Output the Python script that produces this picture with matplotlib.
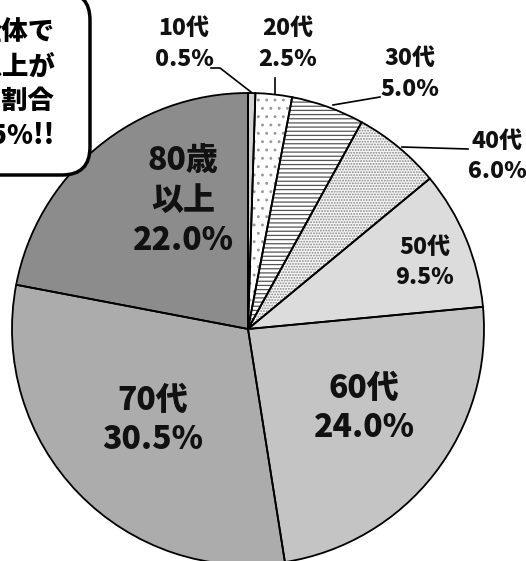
import matplotlib
matplotlib.use("Agg")
import matplotlib.pyplot as plt
from matplotlib.patches import FancyBboxPatch

plt.rcParams['font.family'] = ['Noto Sans CJK JP', 'DejaVu Sans']
plt.rcParams['hatch.linewidth'] = 0.9

categories = ['10代', '20代', '30代', '40代', '50代', '60代', '70代', '80歳\n以上']
values = [0.5, 2.5, 5.0, 6.0, 9.5, 24.0, 30.5, 22.0]
pct_labels = ['0.5%', '2.5%', '5.0%', '6.0%', '9.5%', '24.0%', '30.5%', '22.0%']
bubble_lines = ['全体で', '70代以上が', '占める割合', '52.5%!!']

colors = ['#d2d2d2', '#ffffff', '#ffffff', '#f6f6f6', '#dcdcdc', '#c4c4c4', '#acacac', '#8c8c8c']
hatches = [None, '..', '----', '......', None, None, None, None]
hatch_colors = ['none', '#9a9a9a', '#555555', '#888888', 'none', 'none', 'none', 'none']

W, H = 526, 561
fig = plt.figure(figsize=(W / 100, H / 100), dpi=100)
ax = fig.add_axes([0, 0, 1, 1])

cx, cy, R = 248, H - 329, 236
# fill + hatch layer
wedges, _ = ax.pie(values, startangle=90, counterclock=False, colors=colors,
                   center=(cx, cy), radius=R, frame=True,
                   wedgeprops=dict(linewidth=0))
for w, h, hc in zip(wedges, hatches, hatch_colors):
    if h:
        w.set_hatch(h)
        w.set_edgecolor(hc)
# outline layer
ax.pie(values, startangle=90, counterclock=False, colors=['none'] * len(values),
       center=(cx, cy), radius=R, frame=True,
       wedgeprops=dict(edgecolor='black', linewidth=1.3, fill=False))
ax.set_xlim(0, W)
ax.set_ylim(0, H)
ax.axis('off')

def Y(y):
    return H - y

big = dict(fontsize=23, fontweight='black', ha='center', va='center', color='#111111')
small = dict(fontsize=16.5, fontweight='black', ha='center', va='center', color='#111111')

# inner labels
ax.text(183, Y(200), categories[7] + '\n' + pct_labels[7], linespacing=1.25, **big)
ax.text(153, Y(420), categories[6] + '\n' + pct_labels[6], linespacing=1.2, **big)
ax.text(364, Y(408), categories[5] + '\n' + pct_labels[5], linespacing=1.2, **big)
ax.text(425, Y(247), categories[4], **small)
ax.text(425, Y(277), pct_labels[4], **small)

# outer labels
ax.text(184, Y(28), categories[0], **small)
ax.text(184, Y(59), pct_labels[0], **small)
ax.text(288, Y(28), categories[1], **small)
ax.text(288, Y(59), pct_labels[1], **small)
ax.text(410, Y(58), categories[2], **small)
ax.text(410, Y(89), pct_labels[2], **small)
ax.text(497, Y(141), categories[3], **small)
ax.text(497, Y(171), pct_labels[3], **small)

lk = dict(color='black', linewidth=1.2)
ax.plot([211, 220, 251], [Y(68), Y(68), Y(92)], **lk)
ax.plot([275, 275], [Y(78), Y(94)], **lk)
ax.plot([333, 380], [Y(105), Y(97)], **lk)
ax.plot([402, 468], [Y(147), Y(149)], **lk)

# speech bubble (partly outside the picture, as in the source)
bub = FancyBboxPatch((-60, Y(175)), 150, 183,
                     boxstyle='round,pad=0,rounding_size=28',
                     facecolor='white', edgecolor='black', linewidth=2.5, zorder=5)
ax.add_patch(bub)
for i, t in enumerate(bubble_lines):
    ax.text(55, Y(32 + 34.5 * i), t, fontsize=19, fontweight='black', ha='right',
            va='center', color='black', zorder=6)

fig.savefig('out.png', dpi=100)
